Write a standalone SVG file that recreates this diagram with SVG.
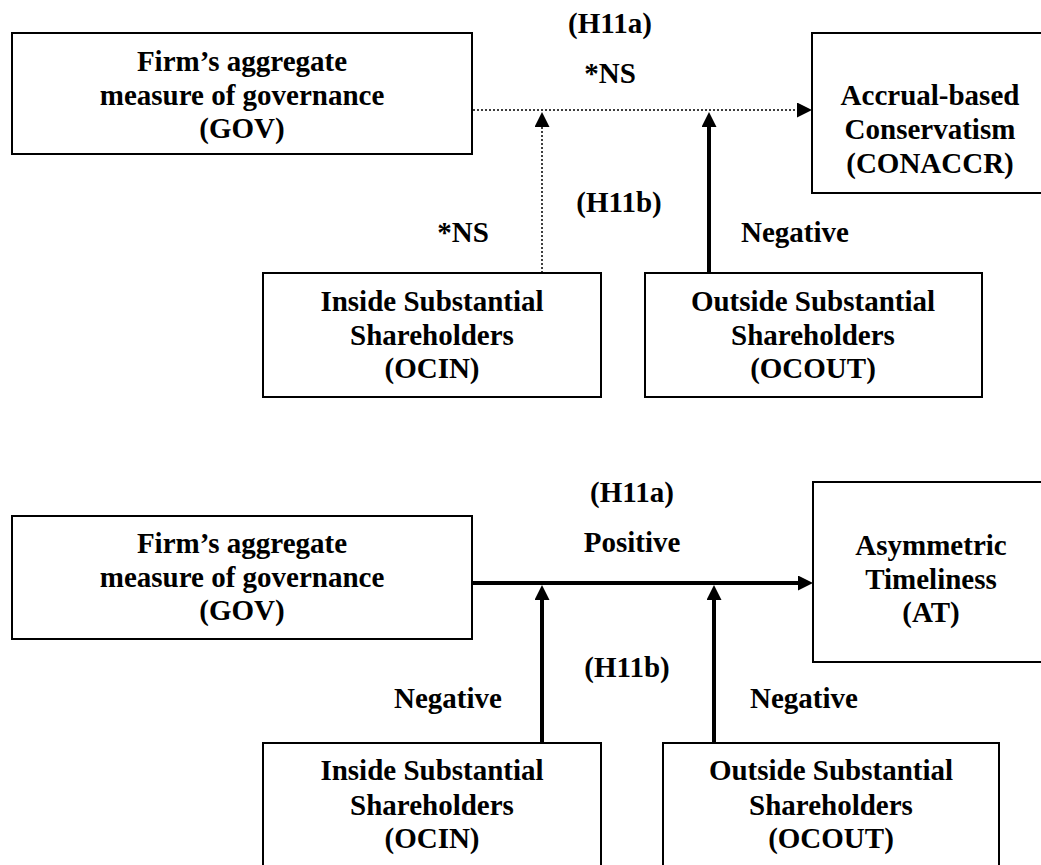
<svg xmlns="http://www.w3.org/2000/svg" width="1041" height="865" viewBox="0 0 1041 865">
<style>
.box{fill:#fff;stroke:#000;stroke-width:2}
text{font-family:"Liberation Serif","Times New Roman",serif;font-weight:bold;font-size:29px;fill:#000;text-anchor:middle}
.dot{stroke:#000;stroke-width:1.5;stroke-dasharray:2 2;fill:none}
.thick{stroke:#000;stroke-width:4;fill:none}
</style>
<defs>
<marker id="ah" markerUnits="userSpaceOnUse" markerWidth="16" markerHeight="16" refX="5" refY="7.5" orient="auto">
<path d="M0,0 L15,7.5 L0,15 Z" fill="#000"/>
</marker>
</defs>
<rect width="1041" height="865" fill="#fff"/>

<!-- Top diagram -->
<g id="gov1">
<rect class="box" x="12" y="33" width="460" height="121"/>
<text x="242" y="71">Firm’s aggregate</text>
<text x="242" y="105">measure of governance</text>
<text x="242" y="138">(GOV)</text>
</g>
<g id="conaccr">
<rect class="box" x="812" y="33" width="236" height="160"/>
<text x="930" y="105">Accrual-based</text>
<text x="930" y="139">Conservatism</text>
<text x="930" y="173">(CONACCR)</text>
</g>
<g id="ocin1">
<rect class="box" x="263" y="273" width="338" height="124"/>
<text x="432" y="311">Inside Substantial</text>
<text x="432" y="345">Shareholders</text>
<text x="432" y="378">(OCIN)</text>
</g>
<g id="ocout1">
<rect class="box" x="645" y="273" width="337" height="124"/>
<text x="813" y="311">Outside Substantial</text>
<text x="813" y="345">Shareholders</text>
<text x="813" y="378">(OCOUT)</text>
</g>

<!-- Bottom diagram -->
<g id="gov2">
<rect class="box" x="12" y="516" width="460" height="123"/>
<text x="242" y="553">Firm’s aggregate</text>
<text x="242" y="587">measure of governance</text>
<text x="242" y="620">(GOV)</text>
</g>
<g id="at">
<rect class="box" x="813" y="482" width="236" height="180"/>
<text x="931" y="555">Asymmetric</text>
<text x="931" y="589">Timeliness</text>
<text x="931" y="622">(AT)</text>
</g>
<g id="ocin2">
<rect class="box" x="263" y="743" width="338" height="140"/>
<text x="432" y="780">Inside Substantial</text>
<text x="432" y="815">Shareholders</text>
<text x="432" y="848">(OCIN)</text>
</g>
<g id="ocout2">
<rect class="box" x="663" y="743" width="336" height="140"/>
<text x="831" y="780">Outside Substantial</text>
<text x="831" y="815">Shareholders</text>
<text x="831" y="848">(OCOUT)</text>
</g>

<g id="connectors">
<line class="dot" x1="473" y1="110" x2="802" y2="110" marker-end="url(#ah)"/>
<line class="dot" x1="542" y1="273" x2="542" y2="122" marker-end="url(#ah)"/>
<line class="thick" x1="709" y1="273" x2="709" y2="122" marker-end="url(#ah)"/>
<line class="thick" x1="473" y1="583" x2="803" y2="583" marker-end="url(#ah)"/>
<line class="thick" x1="542" y1="743" x2="542" y2="595" marker-end="url(#ah)"/>
<line class="thick" x1="714" y1="743" x2="714" y2="595" marker-end="url(#ah)"/>
</g>

<g id="labels">
<text x="610" y="33">(H11a)</text>
<text x="610" y="83">*NS</text>
<text x="619" y="212">(H11b)</text>
<text x="463" y="242">*NS</text>
<text x="795" y="242">Negative</text>
<text x="632" y="502">(H11a)</text>
<text x="632" y="552">Positive</text>
<text x="627" y="677">(H11b)</text>
<text x="448" y="708">Negative</text>
<text x="804" y="708">Negative</text>
</g>
</svg>
